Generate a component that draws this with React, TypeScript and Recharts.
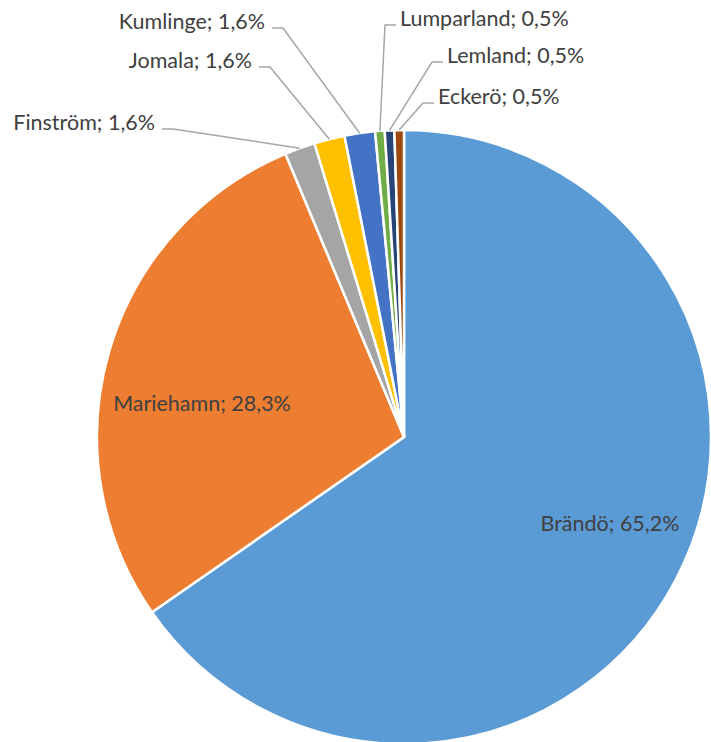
import React from "react";
import { PieChart, Pie, Cell } from "recharts";

const municipalities = ["Brändö", "Mariehamn", "Finström", "Jomala", "Kumlinge", "Lumparland", "Lemland", "Eckerö"];
const shares = [65.2, 28.3, 1.6, 1.6, 1.6, 0.5, 0.5, 0.5];
const colors = ["#5B9BD5", "#ED7D31", "#A5A5A5", "#FFC000", "#4472C4", "#70AD47", "#264478", "#9E480E"];

const data = municipalities.map((name, i) => ({ name, value: shares[i] }));

// label layout relative to pie centre (inside: text centre; outside: elbow point)
const labelLayout: Record<string, any> = {
  "Brändö": { inside: true, dx: 206, dy: 94 },
  "Mariehamn": { inside: true, dx: -202, dy: -26 },
  "Finström": { side: "left", ex: -231, ey: -308 },
  "Jomala": { side: "left", ex: -134, ey: -370 },
  "Kumlinge": { side: "left", ex: -121, ey: -409 },
  "Lumparland": { side: "right", ex: -19, ey: -412 },
  "Lemland": { side: "right", ex: 28, ey: -375 },
  "Eckerö": { side: "right", ex: 19, ey: -334 },
};

const RADIAN = Math.PI / 180;
const FONT = "Lato, 'Open Sans', sans-serif";
const TEXT = "#404040";
const FS = 21.5;

const fmt = (v: number) => v.toFixed(1).replace(".", ",") + "%";

const renderLabel = (props: any) => {
  const { cx, cy, midAngle, outerRadius, name, value } = props;
  const lay = labelLayout[name];
  const txt = `${name}; ${fmt(value)}`;
  if (lay.inside) {
    return (
      <text x={cx + lay.dx} y={cy + lay.dy} textAnchor="middle" fill={TEXT} fontSize={FS} fontFamily={FONT}>
        {txt}
      </text>
    );
  }
  const sx = cx + outerRadius * Math.cos(-midAngle * RADIAN);
  const sy = cy + outerRadius * Math.sin(-midAngle * RADIAN);
  const ex = cx + lay.ex;
  const ey = cy + lay.ey;
  const dir = lay.side === "left" ? -1 : 1;
  const hx = ex + dir * 11;
  const tx = hx + dir * (dir < 0 ? 7 : 4);
  return (
    <g>
      <polyline points={`${sx},${sy} ${ex},${ey} ${hx},${ey}`} fill="none" stroke="#A6A6A6" strokeWidth={1.5} />
      <text x={tx} y={ey + 1} textAnchor={dir < 0 ? "end" : "start"} fill={TEXT} fontSize={FS} fontFamily={FONT}>
        {txt}
      </text>
    </g>
  );
};

export default function App() {
  return (
    <div style={{ position: "absolute", left: 0, top: 0, width: 711, height: 742, background: "#fff" }}>
      <PieChart width={711} height={742} margin={{ top: 0, right: 0, bottom: 0, left: 0 }}>
        <Pie
          data={data}
          dataKey="value"
          nameKey="name"
          cx={404}
          cy={437}
          outerRadius={307}
          startAngle={90}
          endAngle={-270}
          stroke="#FFFFFF"
          strokeWidth={2.5}
          label={renderLabel}
          labelLine={false}
          isAnimationActive={false}
        >
          {data.map((d, i) => (
            <Cell key={d.name} fill={colors[i]} />
          ))}
        </Pie>
      </PieChart>
    </div>
  );
}
